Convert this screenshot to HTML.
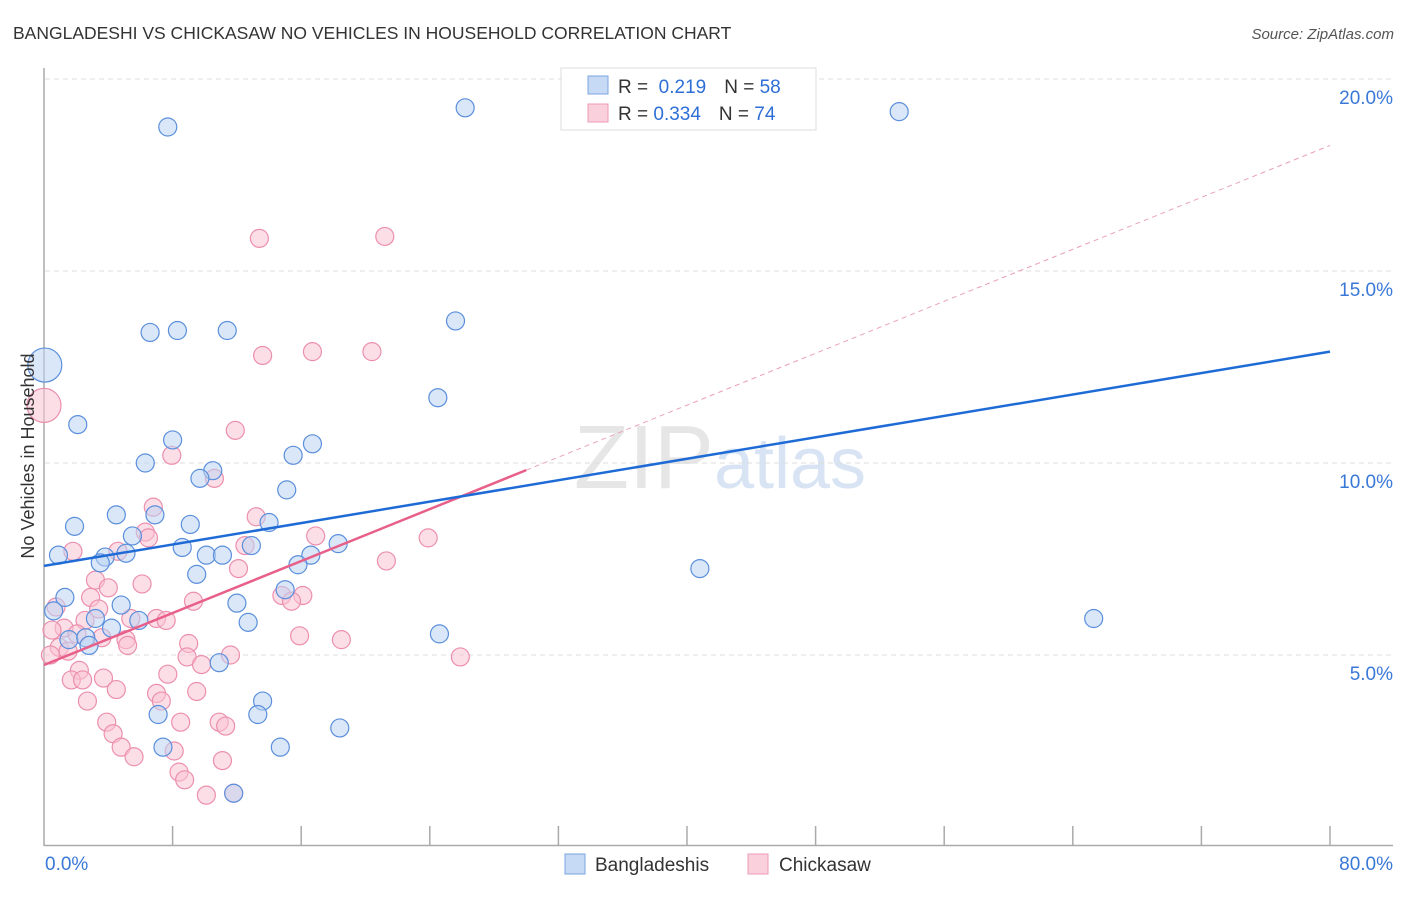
<!DOCTYPE html>
<html><head><meta charset="utf-8"><style>
body{margin:0;background:#fff;font-family:"Liberation Sans",sans-serif}
svg text{font-family:"Liberation Sans",sans-serif}
</style></head><body>
<svg id="chart" width="1406" height="892" xmlns="http://www.w3.org/2000/svg">
<text x="13" y="39" font-size="17.5" fill="#333">BANGLADESHI VS CHICKASAW NO VEHICLES IN HOUSEHOLD CORRELATION CHART</text>
<text x="1394" y="39" font-size="15" fill="#555" text-anchor="end" font-style="italic">Source: ZipAtlas.com</text>
<text x="720" y="488" font-size="90" text-anchor="middle" fill="#e6e6e6" font-family="Liberation Serif">ZIP<tspan fill="#d8e4f4" font-family="Liberation Sans" font-size="72">atlas</tspan></text>
<g id="grid"></g>
<g id="axes"></g>
<g id="lines"></g>
<g id="pts"></g>
<text transform="translate(34,456) rotate(-90)" font-size="18" fill="#333" text-anchor="middle">No Vehicles in Household</text>
<g>
<rect x="561" y="68" width="255" height="62" fill="#fff" stroke="#ddd"/>
<rect x="588" y="76" width="20" height="18" fill="#c6daf5" stroke="#7aa5e0"/>
<rect x="588" y="104" width="20" height="18" fill="#fbd0dd" stroke="#ec9ab5"/>
<text x="618" y="93" font-size="19" fill="#333">R = <tspan fill="#2d6fd6">&#160;0.219</tspan><tspan dx="18">N = </tspan><tspan fill="#2d6fd6">58</tspan></text>
<text x="618" y="120" font-size="19" fill="#333">R = <tspan fill="#2d6fd6">0.334</tspan><tspan dx="18">N = </tspan><tspan fill="#2d6fd6">74</tspan></text>
</g>
<g>
<rect x="565" y="854" width="20" height="20" fill="#c6daf5" stroke="#7aa5e0"/>
<text x="595" y="871" font-size="19" fill="#333">Bangladeshis</text>
<rect x="748" y="854" width="20" height="20" fill="#fbd0dd" stroke="#ec9ab5"/>
<text x="779" y="871" font-size="19" fill="#333">Chickasaw</text>
</g>
</svg>
<script>
const yTicks=[5,10,15,20];
const yTickLabels=["5.0%","10.0%","15.0%","20.0%"];
const xTickLabels=["0.0%","80.0%"];
const blueX=[0.05,7.7,26.2,53.2,6.6,8.3,11.4,25.6,24.5,2.1,8.0,16.7,6.3,15.5,10.5,9.7,15.1,4.5,6.9,1.9,9.1,14.0,5.5,0.9,3.8,5.1,8.6,10.1,11.1,12.9,18.3,16.6,15.8,3.5,9.5,40.8,15.0,1.3,0.6,4.8,12.0,3.2,5.9,4.2,12.7,65.3,1.55,2.6,2.8,24.6,10.9,13.6,7.1,13.3,18.4,7.4,14.7,11.8];
const blueY=[12.55,18.75,19.25,19.15,13.4,13.45,13.45,13.7,11.7,11.0,10.6,10.5,10.0,10.2,9.8,9.6,9.3,8.65,8.65,8.35,8.4,8.45,8.1,7.6,7.55,7.65,7.8,7.6,7.6,7.85,7.9,7.6,7.35,7.4,7.1,7.25,6.7,6.5,6.15,6.3,6.35,5.95,5.9,5.7,5.85,5.95,5.4,5.45,5.25,5.55,4.8,3.8,3.45,3.45,3.1,2.6,2.6,1.4];
const pinkX=[0,13.4,21.2,13.6,16.7,20.4,11.9,7.95,10.6,6.8,13.2,6.3,6.5,1.8,4.6,12.5,16.9,23.9,21.3,12.1,3.2,4.0,6.1,2.9,9.3,14.8,16.1,15.4,3.4,0.75,7.0,7.6,5.4,2.55,1.25,0.5,2.05,3.6,5.1,5.2,0.95,1.5,0.4,9.0,15.9,18.5,25.9,8.9,9.8,11.6,2.2,1.7,2.4,3.7,7.7,4.5,7.0,7.3,9.5,2.7,3.9,4.3,8.5,10.9,11.3,4.8,5.6,8.1,11.1,8.4,8.75,10.1,11.8];
const pinkY=[11.5,15.85,15.9,12.8,12.9,12.9,10.85,10.2,9.6,8.85,8.6,8.2,8.05,7.7,7.7,7.85,8.1,8.05,7.45,7.25,6.95,6.75,6.85,6.5,6.4,6.55,6.55,6.4,6.2,6.25,5.95,5.9,5.95,5.9,5.7,5.65,5.55,5.45,5.4,5.25,5.2,5.1,5.0,5.3,5.5,5.4,4.95,4.95,4.75,5.0,4.6,4.35,4.35,4.4,4.5,4.1,4.0,3.8,4.05,3.8,3.25,2.95,3.25,3.25,3.15,2.6,2.35,2.5,2.25,1.95,1.75,1.35,1.4];
const blueTrend=[7.32,12.9];
const pinkTrend=[4.74,18.27];
const pinkSolidEnd=30;
const NS="http://www.w3.org/2000/svg";
const X=v=>44+v*16.075, Y=v=>847-v*38.4;
function mk(tag,attrs,parent){const e=document.createElementNS(NS,tag);for(const k in attrs)e.setAttribute(k,attrs[k]);parent.appendChild(e);return e;}
const grid=document.getElementById('grid'),axes=document.getElementById('axes'),lines=document.getElementById('lines'),pts=document.getElementById('pts');
yTicks.forEach((t,i)=>{
 const l=mk('line',{x1:45,x2:1393,y1:Y(t),y2:Y(t),stroke:'#ddd','stroke-dasharray':'5,4'},grid);
 
 
 const tx=mk('text',{x:1393,y:Y(t)+25,'font-size':19,fill:'#3a78d8','text-anchor':'end'},axes);
 tx.textContent=yTickLabels[i];
 
 
});
const ya=mk('line',{x1:44,x2:44,y1:68,y2:846,stroke:'#aaa','stroke-width':1.5},axes);


const xa=mk('line',{x1:44,x2:1393,y1:845.5,y2:845.5,stroke:'#aaa','stroke-width':1.5},axes);


for(let i=1;i<=10;i++){const v=i*8;const t=mk('line',{x1:X(v),x2:X(v),y1:826,y2:845,stroke:'#aaa','stroke-width':1.5},axes);
 
 }
[[0,'start',45],[80,'end',1393]].forEach((a,i)=>{const t=mk('text',{x:a[2],y:870,'font-size':19,fill:'#3a78d8','text-anchor':a[1]},axes);t.textContent=xTickLabels[i];
 
 });
function draw(xs,ys,fill,stroke,name){xs.forEach((x,i)=>{const big=x<0.1;const c=mk('circle',{cx:X(x),cy:Y(ys[i]),r:big?17:9,fill:fill,'fill-opacity':0.55,stroke:stroke,'stroke-width':1.2},pts);
 
 });}
draw(pinkX,pinkY,'#f9c3d3','#ec8fae','point-chickasaw');
draw(blueX,blueY,'#bcd3f3','#5b8fdc','point-bangladeshi');
const pAt=v=>pinkTrend[0]+(pinkTrend[1]-pinkTrend[0])*v/80;
const pd=mk('line',{x1:X(pinkSolidEnd),y1:Y(pAt(pinkSolidEnd)),x2:X(80),y2:Y(pinkTrend[1]),stroke:'#eaa0b8','stroke-dasharray':'5,4','stroke-width':1},lines);


const ps=mk('line',{x1:X(0),y1:Y(pinkTrend[0]),x2:X(pinkSolidEnd),y2:Y(pAt(pinkSolidEnd)),stroke:'#e8608a','stroke-width':2.5},lines);


const bl=mk('line',{x1:X(0),y1:Y(blueTrend[0]),x2:X(80),y2:Y(blueTrend[1]),stroke:'#1f6bd6','stroke-width':2.5},lines);


document.getElementById('chart').appendChild(lines);
</script>
</body></html>
